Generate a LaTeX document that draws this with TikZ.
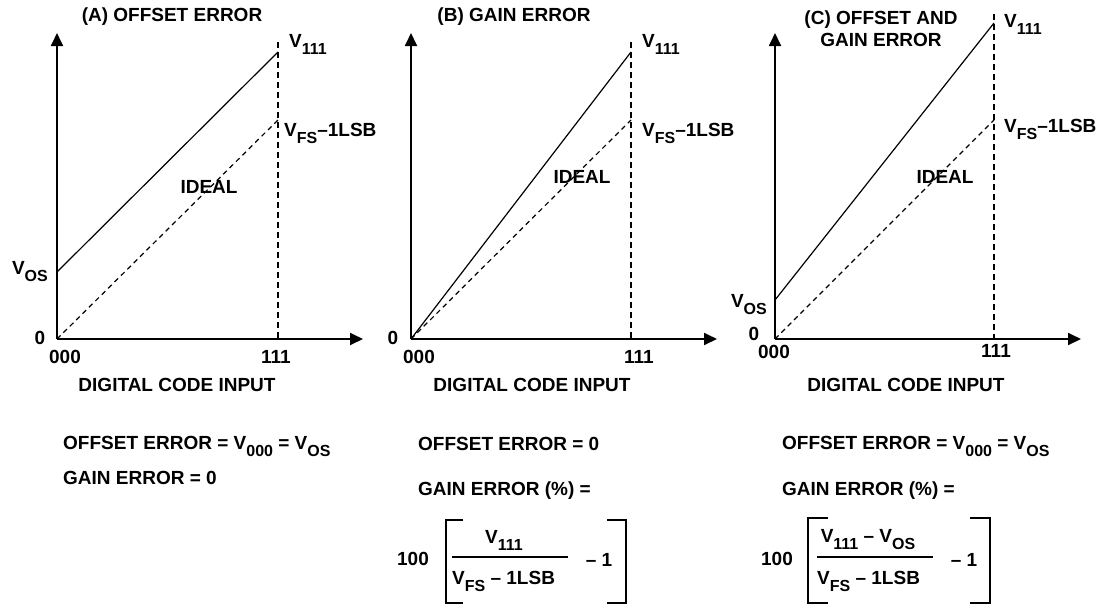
\documentclass[tikz,border=0pt]{standalone}
\usepackage{fontspec}
\setmainfont{Liberation Sans}
\usetikzlibrary{arrows.meta}
\newcommand{\sbs}[1]{\raisebox{-0.37em}{\fontsize{16}{16}\selectfont #1}}

\begin{document}
\begin{tikzpicture}[x=1pt,y=-1pt,
    lbl/.style={font=\fontsize{19}{22}\selectfont\bfseries,inner sep=0pt},
    axis/.style={line width=1.8pt,-{Triangle[length=13pt,width=12pt]}},
    curve/.style={line width=1.2pt},
    ideal/.style={line width=1.2pt,dash pattern=on 5pt off 4pt},
    guide/.style={line width=2.4pt,dash pattern=on 6pt off 4pt},
    brk/.style={line width=2.4pt},
    fracline/.style={line width=1.3pt}]
    \useasboundingbox (0,0) rectangle (1105,606);

    % Panel A
    \coordinate (oa) at (57,339);
    \draw[axis] (oa) -- (57,33);
    \draw[axis] (oa) -- (363,339);
    \draw[guide] (278,42) -- (278,339);
    \draw[curve] (57,272) -- (278,52);
    \draw[ideal] (oa) -- (278,120);
    \node[lbl] (ta) at (172,17) {(A) OFFSET ERROR};
    \node[lbl,anchor=west] (va) at (289,44) {V\sbs{111}};
    \node[lbl,anchor=west] (fa) at (284,133) {V\sbs{FS}--1LSB};
    \node[lbl,anchor=east] (osa) at (48,272) {V\sbs{OS}};
    \node[lbl] (za) at (40,338) {0};
    \node[lbl] (la) at (65,357) {000};
    \node[lbl] (ra) at (276,357) {111};
    \node[lbl] (xa) at (177,385) {DIGITAL CODE INPUT};
    \node[lbl] (ia) at (209,187) {IDEAL};
    \node[lbl,anchor=west] (ea1) at (63,446) {OFFSET ERROR = V\sbs{000} = V\sbs{OS}};
    \node[lbl,anchor=west] (ea2) at (63,478) {GAIN ERROR = 0};

    % Panel B
    \coordinate (ob) at (411,339);
    \draw[axis] (ob) -- (411,33);
    \draw[axis] (ob) -- (717,339);
    \draw[guide] (631,42) -- (631,339);
    \draw[curve] (ob) -- (631,52);
    \draw[ideal] (ob) -- (631,120);
    \node[lbl] (tb) at (514,17) {(B) GAIN ERROR};
    \node[lbl,anchor=west] (vb) at (642,44) {V\sbs{111}};
    \node[lbl,anchor=west] (fb) at (642,133) {V\sbs{FS}--1LSB};
    \node[lbl] (zb) at (393,338) {0};
    \node[lbl] (lb) at (419,357) {000};
    \node[lbl] (rb) at (639,357) {111};
    \node[lbl] (xb) at (532,385) {DIGITAL CODE INPUT};
    \node[lbl] (ib) at (582,177) {IDEAL};
    \node[lbl,anchor=west] (eb1) at (418,444) {OFFSET ERROR = 0};
    \node[lbl,anchor=west] (eb2) at (418,491) {GAIN ERROR (\%) =};
    \node[lbl] (hb) at (413,559) {100};
    \draw[brk] (463,520) -- (446,520) -- (446,603) -- (463,603);
    \draw[brk] (607,520) -- (626,520) -- (626,603) -- (607,603);
    \draw[fracline] (452,557) -- (568,557);
    \node[lbl] (nb) at (504,540) {V\sbs{111}};
    \node[lbl,anchor=west] (db) at (452,581) {V\sbs{FS} -- 1LSB};
    \node[lbl] (mb) at (599,560) {-- 1};

    % Panel C
    \coordinate (oc) at (775,339);
    \draw[axis] (oc) -- (775,33);
    \draw[axis] (oc) -- (1081,339);
    \draw[guide] (994,14) -- (994,339);
    \draw[curve] (775,300) -- (994,23);
    \draw[ideal] (oc) -- (994,120);
    \node[lbl,align=center] (tc) at (881,29) {(C) OFFSET AND\\GAIN ERROR};
    \node[lbl,anchor=west] (vc) at (1004,24) {V\sbs{111}};
    \node[lbl,anchor=west] (fc) at (1004,129) {V\sbs{FS}--1LSB};
    \node[lbl,anchor=east] (osc) at (767,305) {V\sbs{OS}};
    \node[lbl] (zc) at (754,334) {0};
    \node[lbl] (lc) at (774,352) {000};
    \node[lbl] (rc) at (996,351) {111};
    \node[lbl] (xc) at (906,385) {DIGITAL CODE INPUT};
    \node[lbl] (ic) at (945,177) {IDEAL};
    \node[lbl,anchor=west] (ec1) at (782,446) {OFFSET ERROR = V\sbs{000} = V\sbs{OS}};
    \node[lbl,anchor=west] (ec2) at (782,491) {GAIN ERROR (\%) =};
    \node[lbl] (hc) at (777,559) {100};
    \draw[brk] (828,518) -- (808,518) -- (808,603) -- (828,603);
    \draw[brk] (970,518) -- (990,518) -- (990,603) -- (970,603);
    \draw[fracline] (817,557) -- (933,557);
    \node[lbl] (nc) at (868,540) {V\sbs{111} -- V\sbs{OS}};
    \node[lbl,anchor=west] (dc) at (817,581) {V\sbs{FS} -- 1LSB};
    \node[lbl] (mc) at (964,560) {-- 1};
\end{tikzpicture}
\end{document}
